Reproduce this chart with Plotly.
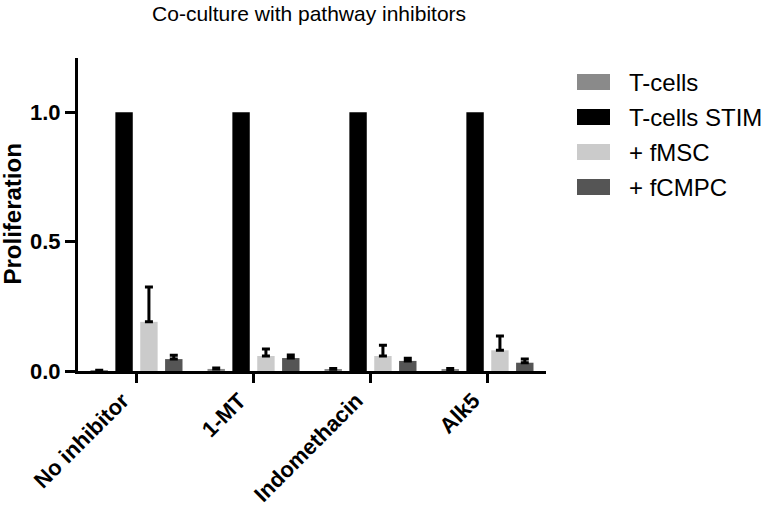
import plotly.graph_objects as go

# Data
categories = ["No inhibitor", "1-MT", "Indomethacin", "Alk5"]

tcells = [0.003, 0.008, 0.007, 0.006]
tcells_err = [None, 0.004, 0.003, 0.004]

tcells_stim = [1.0, 1.0, 1.0, 1.0]
tcells_stim_err = None

fmsc = [0.19, 0.058, 0.058, 0.08]
fmsc_err = [0.135, 0.027, 0.042, 0.055]

fcmpc = [0.046, 0.05, 0.039, 0.032]
fcmpc_err = [0.015, 0.012, 0.01, 0.014]

series = [
    ("T-cells", tcells, tcells_err, "#8a8a8a"),
    ("T-cells STIM", tcells_stim, tcells_stim_err, "#000000"),
    ("+ fMSC", fmsc, fmsc_err, "#cbcbcb"),
    ("+ fCMPC", fcmpc, fcmpc_err, "#555555"),
]

FONT = "Liberation Sans, Arial, sans-serif"
W, H = 767, 506
ML, MR, MT, MB = 78, 221, 58, 135
PW, PH = W - ML - MR, H - MT - MB

fig = go.Figure()

for name, vals, errs, color in series:
    err = None
    if errs is not None:
        err = dict(
            type="data",
            symmetric=False,
            array=errs,
            arrayminus=[0] * len(errs),
            color="black",
            thickness=3,
            width=4,
        )
    fig.add_trace(go.Bar(
        x=categories,
        y=vals,
        name=name,
        marker_color=color,
        marker_line_width=0,
        error_y=err,
    ))

# helpers: pixels -> paper coords
def px_x(px):
    return (px - ML) / PW

def px_y(py):
    return (H - MB - py) / PH

# legend drawn by hand so the swatches match the wide blocks of the original
for i, (name, _, _, color) in enumerate(series):
    yc = 82 + 35 * i
    fig.add_shape(
        type="rect", xref="paper", yref="paper",
        x0=px_x(577), x1=px_x(610), y0=px_y(yc + 8), y1=px_y(yc - 8),
        fillcolor=color, line_width=0,
    )
    fig.add_annotation(
        xref="paper", yref="paper", x=px_x(627), y=px_y(yc),
        xanchor="left", yanchor="middle", showarrow=False,
        text=name, font=dict(size=24, family=FONT, color="black"),
    )

# y axis title
fig.add_annotation(
    xref="paper", yref="paper", x=px_x(12), y=0.5,
    xanchor="center", yanchor="middle", showarrow=False, textangle=-90,
    text="<b>Proliferation</b>",
    font=dict(size=24, family=FONT, color="black"),
)

fig.update_layout(
    width=W,
    height=H,
    margin=dict(l=ML, r=MR, t=MT, b=MB, autoexpand=False),
    paper_bgcolor="white",
    plot_bgcolor="white",
    barmode="group",
    bargap=0.15,
    bargroupgap=0.3,
    font=dict(family=FONT, color="black"),
    title=dict(
        text="Co-culture with pathway inhibitors",
        x=0.403,
        xanchor="center",
        y=0.974,
        yanchor="middle",
        font=dict(size=21, family=FONT, color="black"),
    ),
    showlegend=False,
)

fig.update_xaxes(
    automargin=False,
    showline=True,
    linecolor="black",
    linewidth=3,
    ticks="outside",
    ticklen=9,
    tickwidth=3,
    tickcolor="black",
    tickangle=-45,
    ticklabelshift=-14,
    ticklabelstandoff=-4,
    tickfont=dict(size=22, family="Liberation Sans, Arial", weight="bold"),
    showgrid=False,
    range=[-0.5, 3.5],
)

fig.update_yaxes(
    automargin=False,
    showline=True,
    linecolor="black",
    linewidth=3,
    ticks="outside",
    ticklen=10,
    tickwidth=3,
    tickcolor="black",
    tickvals=[0, 0.5, 1.0],
    ticktext=["0.0", "0.5", "1.0"],
    tickfont=dict(size=22, family="Liberation Sans, Arial", weight="bold"),
    showgrid=False,
    zeroline=False,
    range=[0, 1.21],
)

# drop the default 8px body margin so the figure fills the window exactly
fig.write_html(
    "out.html",
    config={"displayModeBar": False},
    post_script="document.body.style.margin='0';",
)
